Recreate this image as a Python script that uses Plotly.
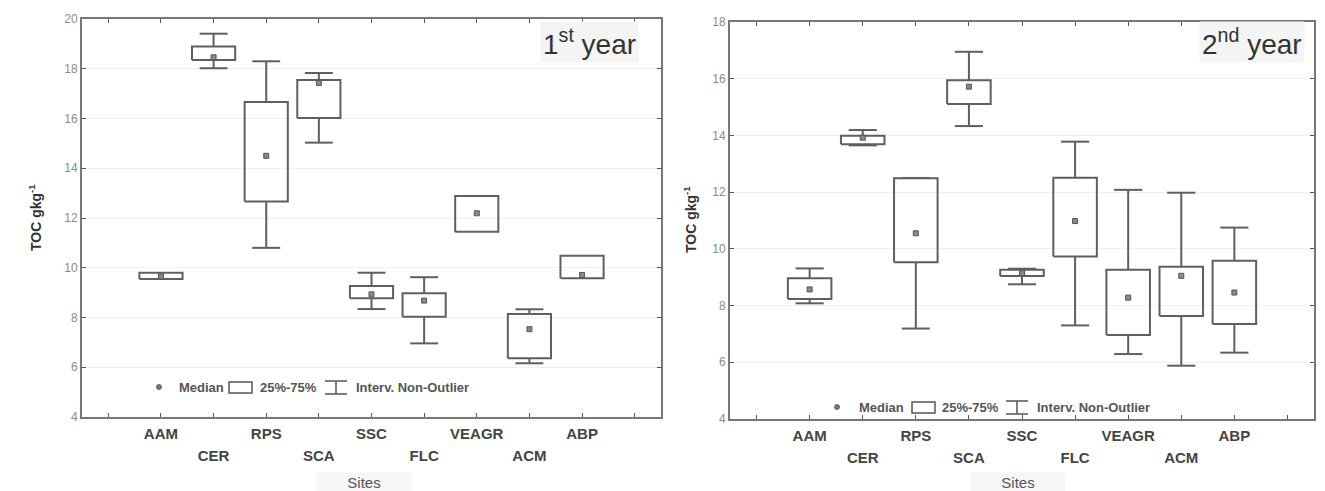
import plotly.graph_objects as go

# ---------------- data ----------------
sites = ["AAM", "CER", "RPS", "SCA", "SSC", "FLC", "VEAGR", "ACM", "ABP"]

y1_min = [9.55, 18.02, 10.80, 15.03, 8.34, 6.96, 11.45, 6.16, 9.58]
y1_q1 = [9.55, 18.35, 12.66, 16.02, 8.77, 8.03, 11.45, 6.36, 9.58]
y1_med = [9.65, 18.46, 14.50, 17.43, 8.93, 8.68, 12.19, 7.53, 9.71]
y1_q3 = [9.80, 18.89, 16.66, 17.55, 9.27, 8.97, 12.88, 8.14, 10.48]
y1_max = [9.80, 19.41, 18.30, 17.83, 9.80, 9.62, 12.88, 8.33, 10.48]

y2_min = [8.08, 13.65, 7.19, 14.33, 8.75, 7.30, 6.29, 5.88, 6.34]
y2_q1 = [8.23, 13.69, 9.53, 15.11, 9.04, 9.73, 6.96, 7.63, 7.35]
y2_med = [8.57, 13.92, 10.55, 15.72, 9.14, 10.98, 8.28, 9.05, 8.46]
y2_q3 = [8.96, 13.99, 12.49, 15.95, 9.26, 12.51, 9.26, 9.37, 9.58]
y2_max = [9.31, 14.19, 12.50, 16.95, 9.30, 13.78, 12.08, 11.98, 10.75]

site_pos = list(range(1, 10))
end_ticks = [0, 10]
row1_pos = site_pos[0::2]
row1_text = sites[0::2]
row2_pos = site_pos[1::2]
row2_text = sites[1::2]

y1_ticks = list(range(4, 21, 2))
y2_ticks = list(range(4, 19, 2))

# ---------------- style ----------------
W, H = 1325, 491
FONT = "Liberation Sans, Arial, sans-serif"
LINE = "#5f5f5f"
HW = 0.41      # half box width (category units)
CW = 0.265     # half cap width


def box_path(pos, mn, q1, q3, mx):
    xs, ys = [], []
    for x, a, b, c, d in zip(pos, mn, q1, q3, mx):
        xs += [x - HW, x + HW, x + HW, x - HW, x - HW, None]
        ys += [b, b, c, c, b, None]
        if d > c:
            xs += [x, x, None, x - CW, x + CW, None]
            ys += [c, d, None, d, d, None]
        if a < b:
            xs += [x, x, None, x - CW, x + CW, None]
            ys += [b, a, None, a, a, None]
    return xs, ys


fig = go.Figure()

for xa, xa2, ya, mn, q1, md, q3, mx in [
    ("x", "x3", "y", y1_min, y1_q1, y1_med, y1_q3, y1_max),
    ("x2", "x4", "y2", y2_min, y2_q1, y2_med, y2_q3, y2_max),
]:
    bx, by = box_path(site_pos, mn, q1, q3, mx)
    fig.add_trace(go.Scatter(x=bx, y=by, mode="lines", xaxis=xa, yaxis=ya,
                             line=dict(color=LINE, width=2), showlegend=False,
                             hoverinfo="skip"))
    fig.add_trace(go.Scatter(x=site_pos, y=md, mode="markers", xaxis=xa, yaxis=ya,
                             marker=dict(symbol="square", size=5, color="#8a8a8a",
                                         line=dict(color="#555", width=1)),
                             showlegend=False))
    # carrier trace for the second row of site labels
    fig.add_trace(go.Scatter(x=row2_pos, y=[md[i] for i in range(1, 9, 2)], mode="markers",
                             xaxis=xa2, yaxis=ya, marker=dict(opacity=0, size=1),
                             showlegend=False, hoverinfo="skip"))


def px_x(p):
    return p / W


def px_y(p):
    return 1 - p / H


tick_font = dict(family=FONT, size=15, color="#444", weight="bold")
xaxis_common = dict(range=[-0.5, 10.5], tickmode="array", tickvals=row1_pos,
                    ticktext=row1_text, ticks="inside", ticklen=4, tickwidth=1,
                    tickcolor="#555", showline=True, linecolor="#777", linewidth=2,
                    mirror="ticks", showgrid=False, zeroline=False, automargin=False,
                    ticklabelstandoff=2,
                    minor=dict(tickmode="array", tickvals=end_ticks + row2_pos,
                               ticks="inside", ticklen=4, tickwidth=1, tickcolor="#555",
                               showgrid=False),
                    tickfont=tick_font)
xaxis_row2 = dict(range=[-0.5, 10.5], tickmode="array", tickvals=row2_pos,
                  ticktext=row2_text, ticks="", showline=False, showgrid=False,
                  zeroline=False, automargin=False, ticklabelstandoff=28,
                  tickfont=tick_font)
yaxis_common = dict(ticks="inside", ticklen=4, tickwidth=1, tickcolor="#555",
                    showline=True, linecolor="#777", linewidth=2, mirror="ticks",
                    showgrid=True, gridcolor="#efefef", gridwidth=1, zeroline=False,
                    automargin=False,
                    tickfont=dict(family=FONT, size=12, color="#8a8a8a"))

dom1 = [px_x(82), px_x(661)]
dom2 = [px_x(730), px_x(1314)]
fig.update_layout(
    width=W, height=H, margin=dict(l=0, r=0, t=0, b=0, autoexpand=False),
    paper_bgcolor="white", plot_bgcolor="white", showlegend=False,
    xaxis=dict(domain=dom1, anchor="y", **xaxis_common),
    xaxis3=dict(domain=dom1, anchor="y", overlaying="x", side="bottom", **xaxis_row2),
    yaxis=dict(domain=[px_y(417), px_y(19)], anchor="x", range=[4, 20],
               tickvals=y1_ticks, **yaxis_common),
    xaxis2=dict(domain=dom2, anchor="y2", **xaxis_common),
    xaxis4=dict(domain=dom2, anchor="y2", overlaying="x2", side="bottom", **xaxis_row2),
    yaxis2=dict(domain=[px_y(419), px_y(22)], anchor="x2", range=[4, 18],
                tickvals=y2_ticks, **yaxis_common),
)

annotations = []
shapes = []


def ann(cx, cy, text, font, xanchor="center", **kw):
    annotations.append(dict(x=px_x(cx), y=px_y(cy), xref="paper", yref="paper",
                            xanchor=xanchor, yanchor="middle", text=text,
                            showarrow=False, font=font, **kw))


# axis titles
for cx, cy in [(35, 218), (690, 220)]:
    ann(cx, cy, "TOC gkg<sup>-1</sup>",
        dict(family=FONT, size=14, color="#333", weight="bold"), textangle=-90)
for cx in [364, 1018]:
    ann(cx, 482, "Sites", dict(family=FONT, size=15, color="#555"),
        width=92, bgcolor="#f6f6f6")

# year labels
for cx, cy, txt in [(589, 42, "1<sup>st</sup> year"), (1252, 42, "2<sup>nd</sup> year")]:
    ann(cx, cy, txt, dict(family=FONT, size=28, color="#333"),
        bgcolor="#f4f4f4", borderpad=2)

# in-plot legends
for dx, ly, bx0, wx, tx in [(159, 387, 229, 336, (177, 258, 354)),
                            (837, 407, 912, 1017, (857, 940, 1035))]:
    shapes.append(dict(type="circle", xref="paper", yref="paper",
                       x0=px_x(dx - 2.5), x1=px_x(dx + 2.5), y0=px_y(ly + 2.5), y1=px_y(ly - 2.5),
                       fillcolor="#777", line=dict(color="#666", width=1)))
    shapes.append(dict(type="rect", xref="paper", yref="paper",
                       x0=px_x(bx0), x1=px_x(bx0 + 23), y0=px_y(ly + 6), y1=px_y(ly - 5),
                       line=dict(color="#555", width=1.5)))
    for seg in [((wx - 11, ly - 6), (wx + 11, ly - 6)), ((wx, ly - 6), (wx, ly + 7)),
                ((wx - 11, ly + 7), (wx + 11, ly + 7))]:
        shapes.append(dict(type="line", xref="paper", yref="paper",
                           x0=px_x(seg[0][0]), y0=px_y(seg[0][1]),
                           x1=px_x(seg[1][0]), y1=px_y(seg[1][1]),
                           line=dict(color="#555", width=1.5)))
    for t, txt in zip(tx, ["Median", "25%-75%", "Interv. Non-Outlier"]):
        ann(t, ly, txt, dict(family=FONT, size=13, color="#555", weight="bold"),
            xanchor="left")

fig.update_layout(annotations=annotations, shapes=shapes)
fig.write_html("out.html")
